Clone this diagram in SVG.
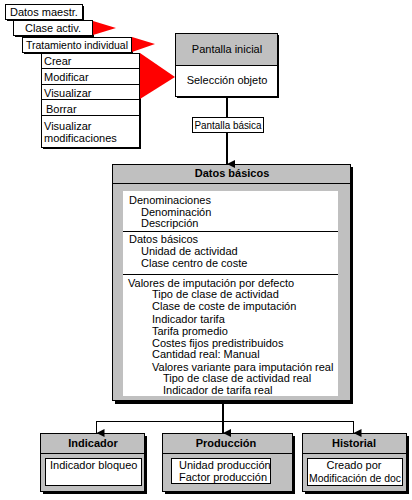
<svg xmlns="http://www.w3.org/2000/svg" width="412" height="500" viewBox="0 0 412 500">
<style>
text{font-family:"Liberation Sans",Arial,sans-serif;font-size:11px;fill:#000}
.b{font-weight:bold}
.m{text-anchor:middle}
.box{fill:#fff;stroke:#000;stroke-width:1}
.gray{fill:#c0c0c0;stroke:#000;stroke-width:1}
.sh{fill:#000}
.red{fill:#ff0000}
.ln{stroke:#000;fill:none}
</style>
<defs>
<marker id="ah" markerWidth="8" markerHeight="8" refX="4" refY="8" orient="auto" markerUnits="userSpaceOnUse" viewBox="0 0 8 8">
<path d="M0,0 L8,0 L4,8 Z" fill="#000"/>
</marker>
</defs>
<rect width="412" height="500" fill="#fff"/>

<g id="datos-maestr">
<rect class="sh" x="7" y="6" width="77" height="15"/>
<rect class="box" x="5.5" y="4.5" width="77" height="15"/>
<text x="10" y="16">Datos maestr.</text>
</g>

<g id="clase-activ">
<rect class="sh" x="15" y="22" width="79" height="15"/>
<rect class="box" x="13.5" y="20.5" width="79" height="15"/>
<text x="25" y="32">Clase activ.</text>
<polygon class="red" points="93,21 116,28 93,35"/>
</g>

<g id="tratamiento">
<rect class="sh" x="24" y="39" width="109" height="15"/>
<rect class="box" x="22.5" y="37.5" width="109" height="15"/>
<text x="26" y="49" textLength="102" lengthAdjust="spacingAndGlyphs">Tratamiento individual</text>
<polygon class="red" points="132,37 155,44 132,52"/>
</g>

<g id="lista">
<rect class="sh" x="43" y="55" width="98" height="94"/>
<rect class="box" x="41.5" y="53.5" width="98" height="94"/>
<line class="ln" x1="41.5" y1="68.5" x2="139.5" y2="68.5"/>
<line class="ln" x1="41.5" y1="84.5" x2="139.5" y2="84.5"/>
<line class="ln" x1="41.5" y1="99.5" x2="139.5" y2="99.5"/>
<line class="ln" x1="41.5" y1="115.5" x2="139.5" y2="115.5"/>
<text x="44" y="65">Crear</text>
<text x="44" y="81">Modificar</text>
<text x="44" y="97">Visualizar</text>
<text x="46" y="113">Borrar</text>
<text x="44" y="130">Visualizar</text>
<text x="44" y="142">modificaciones</text>
<polygon class="red" points="140,53 175,77 140,99"/>
</g>

<g id="pantalla-inicial">
<rect class="sh" x="177" y="35" width="102" height="63"/>
<rect class="gray" x="175.5" y="33.5" width="102" height="32"/>
<rect class="box" x="175.5" y="65.5" width="102" height="31"/>
<text class="m" x="227" y="53">Pantalla inicial</text>
<text class="m" x="227" y="84">Selección objeto</text>
</g>

<g id="pantalla-basica">
<rect class="box" x="192.5" y="117.5" width="71" height="15"/>
<text class="m" x="228" y="129" textLength="67" lengthAdjust="spacingAndGlyphs">Pantalla básica</text>
</g>

<g id="datos-basicos">
<rect class="sh" x="115" y="167" width="238" height="237"/>
<rect class="gray" x="112.5" y="164.5" width="238" height="236"/>
<line class="ln" x1="112.5" y1="183.5" x2="350.5" y2="183.5"/>
<rect x="123" y="191" width="215" height="205" fill="#fff"/>
<text class="m b" x="232" y="177">Datos básicos</text>
<line class="ln" x1="123" y1="231.5" x2="338" y2="231.5"/>
<line class="ln" x1="123" y1="274.5" x2="338" y2="274.5"/>
<text x="129" y="204">Denominaciones</text>
<text x="141" y="216">Denominación</text>
<text x="141" y="227">Descripción</text>
<text x="129" y="243">Datos básicos</text>
<text x="141" y="255">Unidad de actividad</text>
<text x="141" y="267">Clase centro de coste</text>
<text x="128" y="287">Valores de imputación por defecto</text>
<text x="152" y="298">Tipo de clase de actividad</text>
<text x="152" y="310">Clase de coste de imputación</text>
<text x="152" y="323">Indicador tarifa</text>
<text x="152" y="335">Tarifa promedio</text>
<text x="152" y="347">Costes fijos predistribuidos</text>
<text x="152" y="358">Cantidad real: Manual</text>
<text x="152" y="371">Valores variante para imputación real</text>
<text x="163" y="382">Tipo de clase de actividad real</text>
<text x="163" y="394">Indicador de tarifa real</text>
</g>

<g id="indicador">
<rect class="sh" x="43" y="436" width="104" height="58"/>
<rect class="gray" x="40.5" y="433.5" width="104" height="58"/>
<line class="ln" x1="40.5" y1="453.5" x2="144.5" y2="453.5"/>
<rect class="box" x="45.5" y="458.5" width="96" height="27"/>
<text class="m b" x="93" y="447">Indicador</text>
<text x="50" y="469">Indicador bloqueo</text>
</g>

<g id="produccion">
<rect class="sh" x="165" y="436" width="130" height="58"/>
<rect class="gray" x="162.5" y="433.5" width="130" height="58"/>
<line class="ln" x1="162.5" y1="453.5" x2="292.5" y2="453.5"/>
<rect class="box" x="171.5" y="458.5" width="99" height="25"/>
<text class="m b" x="226" y="447">Producción</text>
<text x="179" y="469">Unidad producción</text>
<text x="179" y="481">Factor producción</text>
</g>

<g id="historial">
<rect class="sh" x="305" y="436" width="104" height="58"/>
<rect class="gray" x="302.5" y="433.5" width="104" height="58"/>
<line class="ln" x1="302.5" y1="453.5" x2="406.5" y2="453.5"/>
<rect class="box" x="307.5" y="458.5" width="95" height="27"/>
<text class="m b" x="354" y="447">Historial</text>
<text class="m" x="354" y="469">Creado por</text>
<text class="m" x="355" y="482" textLength="92" lengthAdjust="spacingAndGlyphs">Modificación de doc</text>
</g>

<g id="connectors">
<line class="ln" stroke-width="2" x1="227" y1="97" x2="227" y2="117"/>
<line class="ln" stroke-width="2" x1="227" y1="133" x2="227" y2="164" marker-end="url(#ah)"/>
<line class="ln" stroke-width="2" x1="223" y1="404" x2="223" y2="433" marker-end="url(#ah)"/>
<line class="ln" x1="96" y1="421.5" x2="353" y2="421.5"/>
<line class="ln" x1="96.5" y1="421" x2="96.5" y2="433" marker-end="url(#ah)"/>
<line class="ln" x1="353.5" y1="421" x2="353.5" y2="433" marker-end="url(#ah)"/>
</g>
</svg>
